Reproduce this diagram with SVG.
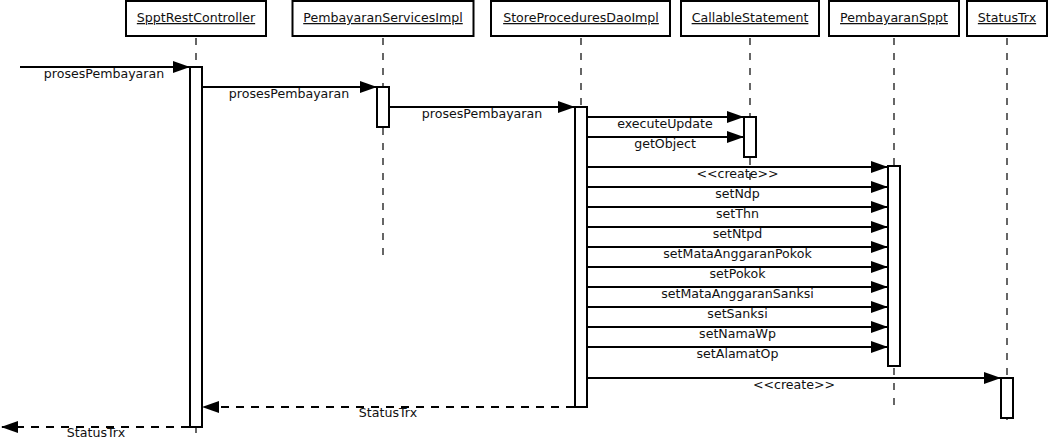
<svg xmlns="http://www.w3.org/2000/svg" width="1049" height="442" viewBox="0 0 1049 442">
<style>
text{font-family:"DejaVu Sans","Liberation Sans",sans-serif;font-size:12.6px;fill:#111}
.hd{text-anchor:middle;text-decoration:underline}
.lb{text-anchor:middle}
.box{fill:#fff;stroke:#000;stroke-width:2}
.act{fill:#fff;stroke:#000;stroke-width:2}
.life{stroke:#000;stroke-width:1.2;stroke-dasharray:7 8;fill:none}
.msg{stroke:#000;stroke-width:2;fill:none;marker-end:url(#ah)}
.ret{stroke:#000;stroke-width:2;fill:none;stroke-dasharray:8 7;marker-end:url(#ah)}
</style>
<defs>
<marker id="ah" markerUnits="userSpaceOnUse" viewBox="0 0 17 12" refX="16" refY="6" markerWidth="17" markerHeight="12" orient="auto">
<path d="M0,0 L17,6 L0,12 z" fill="#000"/>
</marker>
</defs>
<rect width="1049" height="442" fill="#fff"/>
<g id="SpptRestController">
<rect class="box" x="126" y="1" width="140" height="35"/>
<text class="hd" x="196" y="22">SpptRestController</text>
<line class="life" x1="196" y1="38" x2="196" y2="433"/>
<rect class="act" x="190" y="67" width="12" height="360"/>
</g>
<g id="PembayaranServicesImpl">
<rect class="box" x="292.5" y="1" width="181" height="35"/>
<text class="hd" x="383" y="22">PembayaranServicesImpl</text>
<line class="life" x1="383" y1="38" x2="383" y2="259"/>
<rect class="act" x="377" y="87" width="12" height="40"/>
</g>
<g id="StoreProceduresDaoImpl">
<rect class="box" x="491" y="1" width="179" height="35"/>
<text class="hd" x="581" y="22">StoreProceduresDaoImpl</text>
<line class="life" x1="581" y1="38" x2="581" y2="413"/>
<rect class="act" x="575" y="107" width="12" height="300"/>
</g>
<g id="CallableStatement">
<rect class="box" x="681" y="1" width="138" height="35"/>
<text class="hd" x="750" y="22">CallableStatement</text>
<line class="life" x1="750" y1="38" x2="750" y2="180"/>
<rect class="act" x="744" y="117" width="12" height="40"/>
</g>
<g id="PembayaranSppt">
<rect class="box" x="829" y="1" width="130" height="35"/>
<text class="hd" x="894" y="22">PembayaranSppt</text>
<line class="life" x1="894" y1="38" x2="894" y2="406"/>
<rect class="act" x="888" y="166" width="12" height="200"/>
</g>
<g id="StatusTrx">
<rect class="box" x="967" y="1" width="80" height="35"/>
<text class="hd" x="1007" y="22">StatusTrx</text>
<line class="life" x1="1007" y1="38" x2="1007" y2="425"/>
<rect class="act" x="1001" y="378" width="12" height="40"/>
</g>
<g id="connectors">
<line class="msg" x1="20" y1="67" x2="189" y2="67"/>
<text class="lb" x="104" y="77.5">prosesPembayaran</text>
<line class="msg" x1="203" y1="87" x2="376" y2="87"/>
<text class="lb" x="289" y="97.5">prosesPembayaran</text>
<line class="msg" x1="390" y1="107" x2="574" y2="107"/>
<text class="lb" x="482" y="117.5">prosesPembayaran</text>
<line class="msg" x1="588" y1="117" x2="743" y2="117"/>
<text class="lb" x="665" y="127.5">executeUpdate</text>
<line class="msg" x1="588" y1="137" x2="743" y2="137"/>
<text class="lb" x="665" y="147.5">getObject</text>
<line class="msg" x1="588" y1="167" x2="887" y2="167"/>
<text class="lb" x="737.5" y="177.5">&lt;&lt;create&gt;&gt;</text>
<line class="msg" x1="588" y1="187" x2="887" y2="187"/>
<text class="lb" x="737.5" y="197.5">setNdp</text>
<line class="msg" x1="588" y1="207" x2="887" y2="207"/>
<text class="lb" x="737.5" y="217.5">setThn</text>
<line class="msg" x1="588" y1="227" x2="887" y2="227"/>
<text class="lb" x="737.5" y="237.5">setNtpd</text>
<line class="msg" x1="588" y1="247" x2="887" y2="247"/>
<text class="lb" x="737.5" y="257.5">setMataAnggaranPokok</text>
<line class="msg" x1="588" y1="267" x2="887" y2="267"/>
<text class="lb" x="737.5" y="277.5">setPokok</text>
<line class="msg" x1="588" y1="287" x2="887" y2="287"/>
<text class="lb" x="737.5" y="297.5">setMataAnggaranSanksi</text>
<line class="msg" x1="588" y1="307" x2="887" y2="307"/>
<text class="lb" x="737.5" y="317.5">setSanksi</text>
<line class="msg" x1="588" y1="327" x2="887" y2="327"/>
<text class="lb" x="737.5" y="337.5">setNamaWp</text>
<line class="msg" x1="588" y1="347" x2="887" y2="347"/>
<text class="lb" x="737.5" y="357.5">setAlamatOp</text>
<line class="msg" x1="588" y1="378" x2="1000" y2="378"/>
<text class="lb" x="794" y="388.5">&lt;&lt;create&gt;&gt;</text>
<line class="ret" x1="574" y1="407" x2="203" y2="407"/>
<text class="lb" x="388" y="417">StatusTrx</text>
<line class="ret" x1="189" y1="427" x2="2" y2="427"/>
<text class="lb" x="96" y="437">StatusTrx</text>
</g>
</svg>
